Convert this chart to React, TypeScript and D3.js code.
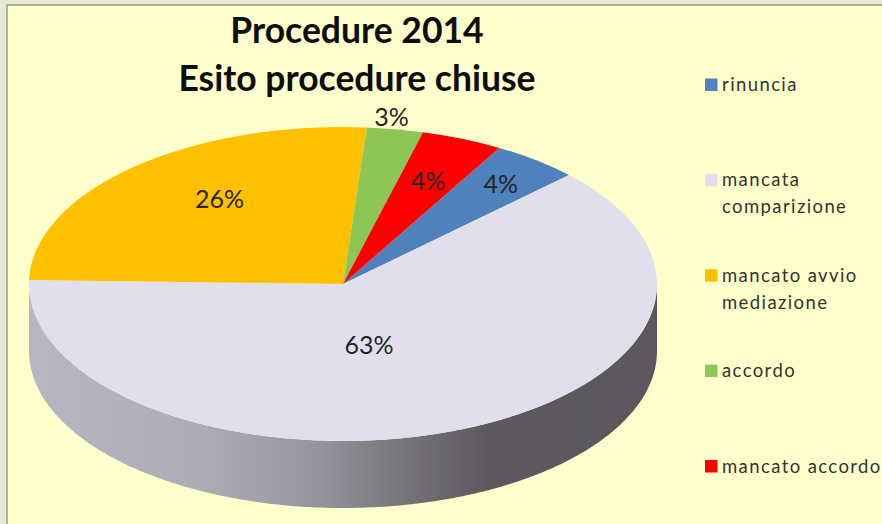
import React from "react";
import * as d3 from "d3";

const categories = ["rinuncia", "mancata comparizione", "mancato avvio mediazione", "accordo", "mancato accordo"];
const values = [4.49, 62.6, 25.8, 2.9, 4.2];
const colors = ["#4f81bd", "#e1dfec", "#ffc000", "#8cc757", "#ff0000"];
const legendLines = [["rinuncia"], ["mancata", "comparizione"], ["mancato avvio", "mediazione"], ["accordo"], ["mancato accordo"]];
const titleLines = ["Procedure 2014", "Esito procedure chiuse"];

const W = 882, H = 524;
const cx = 343, cy = 284, rx = 314, ry = 157, depth = 67;
const startDeg = 29.9;
const labelNudges = [[22.6, -14.4], [-53.5, -42.5], [24, -4], [12, -60], [1.5, -2]];
const FONT = "Lato, 'Open Sans', sans-serif";

export default function App() {
  const pie = d3.pie<number>().sort(null)
    .startAngle((startDeg * Math.PI) / 180)
    .endAngle((startDeg * Math.PI) / 180 + 2 * Math.PI);
  const arcs = pie(values);
  const arc = d3.arc<d3.PieArcDatum<number>>().innerRadius(0).outerRadius(1);
  const total = d3.sum(values);
  const pct = d3.format(".0%");

  const lav = arcs[1];
  const a0 = Math.max(lav.startAngle, Math.PI / 2);
  const a1 = Math.min(lav.endAngle, (3 * Math.PI) / 2);
  const side = d3.area<number>()
    .x((a) => rx * Math.sin(a))
    .y0((a) => -ry * Math.cos(a))
    .y1((a) => -ry * Math.cos(a) + depth);
  const legendY = d3.scalePoint<string>().domain(categories).range([84.5, 466]);

  return (
    <svg width={W} height={H} viewBox={`0 0 ${W} ${H}`} style={{ position: "fixed", left: 0, top: 0, display: "block" }}>
      <defs>
        <linearGradient id="sideGrad" gradientUnits="userSpaceOnUse" x1={-rx} x2={rx} y1={0} y2={0}>
          <stop offset="0" stopColor="#b8b6c0" />
          <stop offset="0.27" stopColor="#aeacb6" />
          <stop offset="0.46" stopColor="#96949c" />
          <stop offset="0.6" stopColor="#76737a" />
          <stop offset="0.73" stopColor="#5d595f" />
          <stop offset="1" stopColor="#5b575d" />
        </linearGradient>
        <filter id="soft" x="-5%" y="-5%" width="110%" height="110%">
          <feGaussianBlur stdDeviation="0.5" />
        </filter>
      </defs>
      <rect width={W} height={H} fill="#e6e9d5" />
      <rect x={7} y={5} width={W} height={H} fill="#ffffcc" stroke="#9a9c88" strokeWidth={1.5} />
      <g textAnchor="middle" fontFamily={FONT} fontWeight={700} fontSize={35.5} fill="#0d0d0d">
        {titleLines.map((t, i) => (
          <text key={t} x={357} y={43 + i * 48}>{t}</text>
        ))}
      </g>
      <g transform={`translate(${cx},${cy})`} filter="url(#soft)">
        <path d={side(d3.range(a0, a1, 0.01).concat(a1)) ?? ""} fill="url(#sideGrad)" />
        <g transform={`scale(${rx},${ry})`}>
          {arcs.map((d, i) => (
            <path key={categories[i]} d={arc(d) ?? ""} fill={colors[i]} />
          ))}
        </g>
      </g>
      <g textAnchor="middle" fontFamily={FONT} fontSize={25} fill="#262626" dominantBaseline="central">
        {arcs.map((d, i) => {
          const m = (d.startAngle + d.endAngle) / 2;
          return (
            <text
              key={categories[i]}
              x={cx + 0.7 * rx * Math.sin(m) + labelNudges[i][0]}
              y={cy - 0.7 * ry * Math.cos(m) + labelNudges[i][1]}
            >
              {pct(values[i] / total)}
            </text>
          );
        })}
      </g>
      <g fontFamily={FONT} fontSize={18.5} fill="#333333" letterSpacing={1.4}>
        {categories.map((c, i) => {
          const y = legendY(c) ?? 0;
          return (
            <g key={c}>
              <rect x={705} y={y - 6} width={12.5} height={12.5} fill={colors[i]} />
              {legendLines[i].map((l, j) => (
                <text key={l} x={722} y={y + 6.5 + j * 27}>{l}</text>
              ))}
            </g>
          );
        })}
      </g>
    </svg>
  );
}
